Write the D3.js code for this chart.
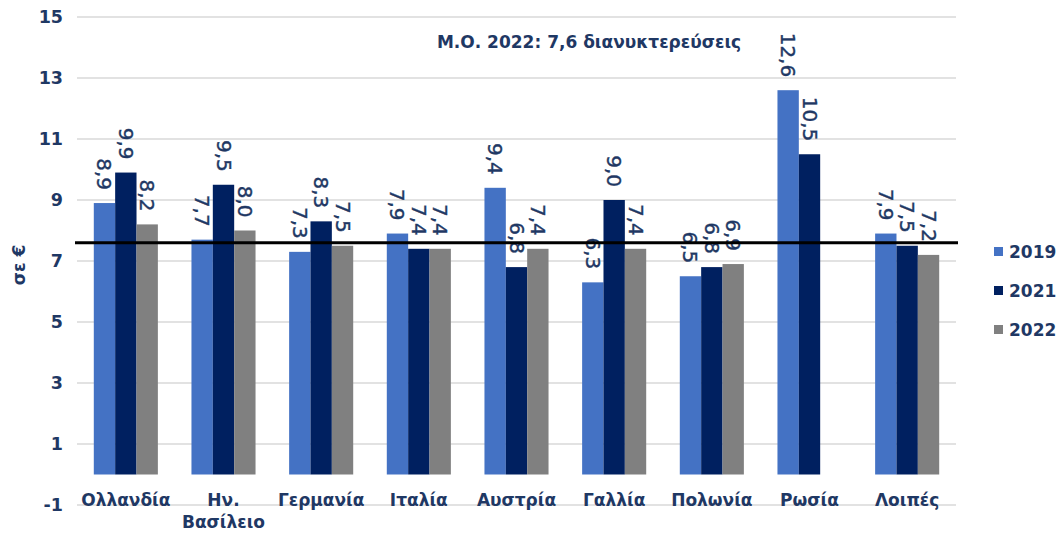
<!DOCTYPE html>
<html>
<head>
<meta charset="utf-8">
<script src="https://cdn.jsdelivr.net/npm/d3@7/dist/d3.min.js"></script>
<style>
  html, body { margin: 0; padding: 0; background: #fff; }
  svg { display: block; font-family: "DejaVu Sans", Verdana, sans-serif; }
</style>
</head>
<body>
<svg id="chart" width="1062" height="534"></svg>
<script>
// Average nights per stay by country of origin
const categories = ["Ολλανδία", "Ην. Βασίλειο", "Γερμανία", "Ιταλία", "Αυστρία", "Γαλλία", "Πολωνία", "Ρωσία", "Λοιπές"];
const seriesNames = ["2019", "2021", "2022"];
const values2019 = [8.9, 7.7, 7.3, 7.9, 9.4, 6.3, 6.5, 12.6, 7.9];
const values2021 = [9.9, 9.5, 8.3, 7.4, 6.8, 9.0, 6.8, 10.5, 7.5];
const values2022 = [8.2, 8.0, 7.5, 7.4, 7.4, 7.4, 6.9, null, 7.2];
const yTicks = [-1, 1, 3, 5, 7, 9, 11, 13, 15];
const meanValue = 7.6;
const meanLabel = "Μ.Ο. 2022: 7,6 διανυκτερεύσεις";
const yTitle = "σε €";

const colors = { "2019": "#4472C4", "2021": "#002060", "2022": "#808080" };
const textColor = "#1F3864";

const seriesValues = { "2019": values2019, "2021": values2021, "2022": values2022 };

const svg = d3.select("#chart");

const plot = { left: 77, right: 956, top: 17, bottom: 505 };

const y = d3.scaleLinear().domain([-1, 15]).range([plot.bottom, plot.top]);
const x0 = d3.scaleBand().domain(categories).range([plot.left, plot.right]).padding(0);
const bw = x0.bandwidth();
const x1 = d3.scaleBand().domain(seriesNames).range([bw * 0.172, bw * 0.828]).padding(0);

// gridlines
svg.append("g")
  .selectAll("line")
  .data(yTicks)
  .join("line")
  .attr("x1", plot.left)
  .attr("x2", plot.right)
  .attr("y1", d => y(d))
  .attr("y2", d => y(d))
  .attr("stroke", "#D9D9D9")
  .attr("stroke-width", 1.5);

// y axis tick labels
const yAxis = d3.axisLeft(y).tickValues(yTicks).tickSize(0).tickPadding(0)
  .tickFormat(d => d < 0 ? "-" + Math.abs(d) : String(d));
const yAxisG = svg.append("g")
  .attr("transform", `translate(${plot.left - 14},0)`)
  .call(yAxis);
yAxisG.select(".domain").remove();
yAxisG.selectAll("text")
  .attr("fill", textColor)
  .attr("font-family", "DejaVu Sans, Verdana, sans-serif")
  .attr("font-size", 17.5)
  .attr("font-weight", "bold");

// y axis title
svg.append("text")
  .attr("transform", "translate(25,265) rotate(-90)")
  .attr("text-anchor", "middle")
  .attr("fill", textColor)
  .attr("font-size", 17)
  .attr("font-weight", "bold")
  .text(yTitle);

// bars
const barData = [];
categories.forEach((c, i) => {
  seriesNames.forEach(s => {
    const v = seriesValues[s][i];
    if (v !== null && v !== undefined) barData.push({ cat: c, series: s, value: v });
  });
});

svg.append("g")
  .selectAll("rect")
  .data(barData)
  .join("rect")
  .attr("x", d => x0(d.cat) + x1(d.series))
  .attr("width", x1.bandwidth())
  .attr("y", d => y(d.value))
  .attr("height", d => y(0) - y(d.value))
  .attr("fill", d => colors[d.series]);

// value labels, rotated, above bars
const fmt = v => v.toFixed(1).replace(".", ",");
svg.append("g")
  .selectAll("text")
  .data(barData)
  .join("text")
  .attr("transform", d => `translate(${x0(d.cat) + x1(d.series) + x1.bandwidth() / 2},${y(d.value) - 13}) rotate(90)`)
  .attr("text-anchor", "end")
  .attr("dominant-baseline", "central")
  .attr("fill", textColor)
  .attr("font-size", 20)
  .attr("stroke", textColor)
  .attr("stroke-width", 0.4)
  .text(d => fmt(d.value));

// mean line
svg.append("line")
  .attr("x1", plot.left - 2)
  .attr("x2", plot.right + 2)
  .attr("y1", y(meanValue))
  .attr("y2", y(meanValue))
  .attr("stroke", "#000")
  .attr("stroke-width", 3);

// mean label
svg.append("text")
  .attr("x", 589)
  .attr("y", 48)
  .attr("text-anchor", "middle")
  .attr("fill", textColor)
  .attr("font-size", 17)
  .attr("font-weight", "bold")
  .text(meanLabel);

// category labels
const catLines = {
  "Ην. Βασίλειο": ["Ην.", "Βασίλειο"]
};
const catG = svg.append("g");
categories.forEach(c => {
  const lines = catLines[c] || [c];
  const t = catG.append("text")
    .attr("text-anchor", "middle")
    .attr("fill", textColor)
    .attr("font-size", 17)
    .attr("font-weight", "bold");
  lines.forEach((ln, k) => {
    t.append("tspan")
      .attr("x", x0(c) + bw / 2)
      .attr("y", 506 + k * 22)
      .text(ln);
  });
});

// legend
const legend = svg.append("g")
  .selectAll("g")
  .data(seriesNames)
  .join("g")
  .attr("transform", (d, i) => `translate(994,${252 + i * 39})`);
legend.append("rect")
  .attr("x", 0)
  .attr("y", -5)
  .attr("width", 9)
  .attr("height", 9)
  .attr("fill", d => colors[d]);
legend.append("text")
  .attr("x", 15)
  .attr("y", 0)
  .attr("dominant-baseline", "central")
  .attr("fill", textColor)
  .attr("font-size", 17)
  .attr("font-weight", "bold")
  .text(d => d);
</script>
</body>
</html>
